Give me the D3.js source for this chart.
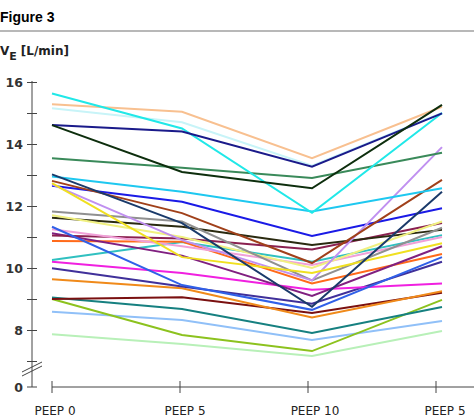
<!DOCTYPE html>
<html lang="en">
<head>
<meta charset="utf-8">
<title>Figure 3</title>
<script src="https://d3js.org/d3.v7.min.js"></script>
<style>
  body { margin: 0; background: #fff; }
  svg { display: block; }
</style>
</head>
<body>
<script>
// x categories
var conditions = ["PEEP 0", "PEEP 5", "PEEP 10", "PEEP 5"];

// y tick labels (even values), plus the zero under the axis break
var yLabels = [8, 10, 12, 14, 16];

// one colour per subject, drawn in this order (light first, dark last)
var seriesColors = [
  "#b8f0b8", "#90c0f8", "#8cc21e", "#168080", "#7a1010", "#f08a1a",
  "#40309a", "#f020e0", "#30c0c0", "#ff6a1a", "#802080", "#8a2050",
  "#f0a0d8", "#3060e8", "#2a2a10", "#f0f080", "#909090", "#1a1ae6",
  "#c090f0", "#f0e020", "#a0401a", "#1ec8f0", "#1a3a6a", "#3a8a5a",
  "#c8f4f8", "#f8c090", "#20e8e8", "#1a1a8a", "#0d2e0d"
];

// minute ventilation [L/min] at PEEP 0, 5, 10, 5
var seriesValues = [
  [7.86, 7.55, 7.16, 7.97],
  [8.59, 8.32, 7.68, 8.29],
  [9.00, 7.84, 7.32, 8.97],
  [9.05, 8.68, 7.90, 8.74],
  [9.00, 9.06, 8.55, 9.20],
  [9.64, 9.35, 8.40, 9.25],
  [9.99, 9.40, 8.85, 10.20],
  [10.20, 9.84, 9.30, 9.50],
  [10.26, 10.84, 10.20, 11.06],
  [10.87, 10.85, 9.50, 10.45],
  [11.12, 10.40, 9.10, 10.70],
  [11.05, 10.95, 10.60, 11.45],
  [11.25, 10.70, 10.10, 11.00],
  [11.33, 9.45, 8.65, 10.35],
  [11.62, 11.33, 10.74, 11.23],
  [11.70, 11.00, 10.00, 11.50],
  [11.82, 11.50, 9.60, 11.30],
  [12.65, 12.14, 11.03, 11.93],
  [12.70, 10.90, 9.60, 13.90],
  [12.74, 10.35, 9.84, 10.80],
  [12.81, 11.77, 10.16, 12.84],
  [12.95, 12.46, 11.82, 12.57],
  [13.02, 11.45, 8.75, 12.46],
  [13.54, 13.23, 12.90, 13.72],
  [15.15, 14.70, 13.30, 15.00],
  [15.28, 15.04, 13.54, 15.20],
  [15.63, 14.50, 11.78, 15.00],
  [14.61, 14.40, 13.27, 14.99],
  [14.61, 13.10, 12.57, 15.26]
];

var w = 474, h = 418;
var font = "'DejaVu Sans', sans-serif";

var svg = d3.select("body").append("svg")
  .attr("width", w)
  .attr("height", h);

// header
svg.append("text")
  .attr("x", 0).attr("y", 22)
  .attr("font-family", "'Liberation Sans', Arial, sans-serif")
  .attr("font-weight", "bold")
  .attr("font-size", 14)
  .text("Figure 3");

svg.append("line")
  .attr("x1", 0).attr("x2", w)
  .attr("y1", 31).attr("y2", 31)
  .attr("stroke", "#a0a0a0")
  .attr("stroke-width", 1.5);

// y axis title: V_E [L/min]
var yt = svg.append("text")
  .attr("x", 0).attr("y", 55)
  .attr("font-family", font)
  .attr("font-weight", "bold")
  .attr("font-size", 12)
  .attr("fill", "#222");
yt.append("tspan").text("V");
yt.append("tspan").attr("dy", 5).attr("font-size", 11).text("E");
yt.append("tspan").attr("dy", -5).attr("dx", 4).text("[L/min]");

// scales
var y = d3.scaleLinear().domain([7, 16]).range([361, 82]);
var yZero = 387;
var xLine = d3.scalePoint().domain(d3.range(conditions.length)).range([52, 442]);
var xTick = d3.scalePoint().domain(d3.range(conditions.length)).range([52, 436]);

var axisX = 32;

// y axis
var yAxis = d3.axisLeft(y)
  .tickValues(d3.range(7, 17))
  .tickSize(5)
  .tickFormat("");
var gy = svg.append("g")
  .attr("transform", "translate(" + axisX + ",0)")
  .call(yAxis);
gy.select(".domain").remove();
gy.selectAll(".tick line").attr("x2", 5).attr("x1", -5).attr("stroke", "#444");

svg.append("line")
  .attr("x1", axisX).attr("x2", axisX)
  .attr("y1", 81).attr("y2", yZero)
  .attr("stroke", "#444").attr("stroke-width", 1);
svg.append("line")
  .attr("x1", axisX - 5).attr("x2", axisX + 5)
  .attr("y1", yZero).attr("y2", yZero)
  .attr("stroke", "#444");

// axis break slashes
[0, 4].forEach(function(off) {
  svg.append("line")
    .attr("x1", 22).attr("y1", 376 - off)
    .attr("x2", 42).attr("y2", 366 - off)
    .attr("stroke", "#444").attr("stroke-width", 1);
});

svg.selectAll(".ylab")
  .data(yLabels)
  .enter().append("text")
  .attr("class", "ylab")
  .attr("x", 23)
  .attr("y", function(d) { return y(d) + 5; })
  .attr("text-anchor", "end")
  .attr("font-family", font)
  .attr("font-weight", "bold")
  .attr("font-size", 12.5)
  .attr("fill", "#333")
  .text(function(d) { return d; });

svg.append("text")
  .attr("x", 23).attr("y", yZero + 5)
  .attr("text-anchor", "end")
  .attr("font-family", font)
  .attr("font-weight", "bold")
  .attr("font-size", 12.5)
  .attr("fill", "#333")
  .text("0");

// x axis
svg.append("line")
  .attr("x1", 52).attr("x2", w)
  .attr("y1", yZero).attr("y2", yZero)
  .attr("stroke", "#444");

svg.selectAll(".xtick")
  .data(d3.range(conditions.length))
  .enter().append("line")
  .attr("class", "xtick")
  .attr("x1", function(d) { return xTick(d); })
  .attr("x2", function(d) { return xTick(d); })
  .attr("y1", yZero - 6).attr("y2", yZero + 6)
  .attr("stroke", "#444");

svg.selectAll(".xlab")
  .data(conditions)
  .enter().append("text")
  .attr("class", "xlab")
  .attr("x", function(d, i) { return xLine(i) + 3; })
  .attr("y", 415)
  .attr("text-anchor", "middle")
  .attr("font-family", font)
  .attr("font-size", 12)
  .attr("fill", "#222")
  .text(function(d) { return d; });

// subject lines
var line = d3.line()
  .x(function(d, i) { return xLine(i); })
  .y(function(d) { return y(d); });

svg.selectAll(".subject")
  .data(seriesValues)
  .enter().append("path")
  .attr("class", "subject")
  .attr("d", line)
  .attr("fill", "none")
  .attr("stroke", function(d, i) { return seriesColors[i]; })
  .attr("stroke-width", 2);
</script>
</body>
</html>
